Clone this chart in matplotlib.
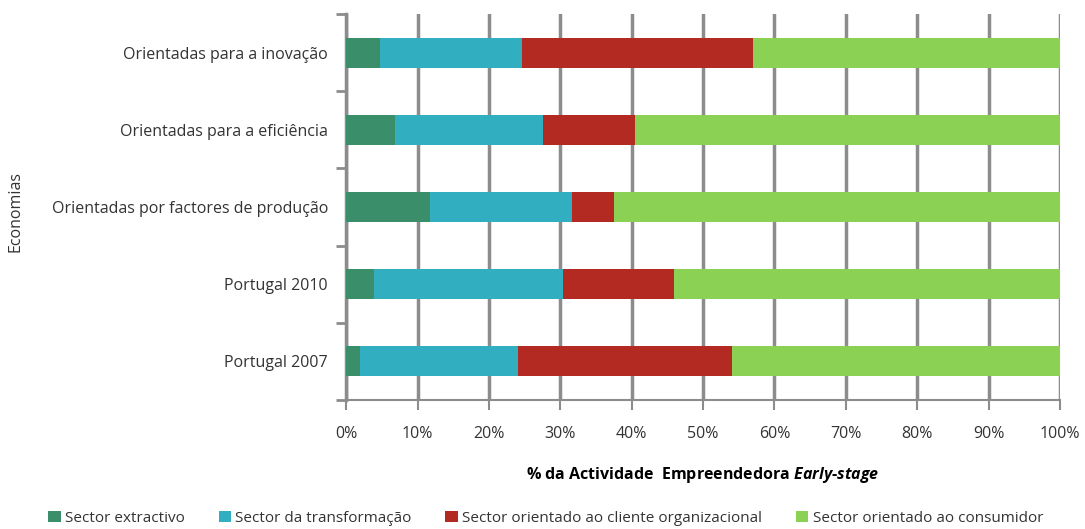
import numpy as np
import matplotlib
matplotlib.use('Agg')
from matplotlib import pyplot as plt
from matplotlib.patches import Patch

# categories, bottom to top
economias = ['Portugal 2007', 'Portugal 2010', 'Orientadas por factores de produção',
             'Orientadas para a eficiência', 'Orientadas para a inovação']

# shares (%) per sector
extractivo = [2.0, 3.9, 11.8, 6.9, 4.8]
transformacao = [22.1, 26.5, 19.9, 20.7, 19.8]
cliente_org = [30.0, 15.5, 5.8, 12.9, 32.4]
consumidor = [45.9, 54.1, 62.5, 59.5, 43.0]

sectores = ['Sector extractivo', 'Sector da transformação',
            'Sector orientado ao cliente organizacional', 'Sector orientado ao consumidor']
cores = ['#3a8f6a', '#31aebf', '#b22a22', '#8ad154']

plt.rcParams['font.family'] = ['Open Sans', 'DejaVu Sans']
plt.rcParams['mathtext.fontset'] = 'custom'
plt.rcParams['mathtext.it'] = 'Open Sans:italic:bold'
plt.rcParams['mathtext.rm'] = 'Open Sans:bold'
plt.rcParams['text.color'] = '#333333'
plt.rcParams['xtick.color'] = '#333333'
plt.rcParams['ytick.color'] = '#333333'

fig = plt.figure(figsize=(10.85, 5.29), dpi=100)
ax = fig.add_axes([0.319, 0.2439, 0.658, 0.7296])

y = np.arange(len(economias))
left = np.zeros(len(economias))
for vals, nome, cor in zip([extractivo, transformacao, cliente_org, consumidor], sectores, cores):
    ax.barh(y, vals, left=left, height=0.39, color=cor, label=nome, zorder=3)
    left += np.array(vals)

ax.set_xlim(0, 100)
ax.set_ylim(-0.5, len(economias) - 0.5)
ax.set_xticks(np.arange(0, 101, 10))
ax.set_xticklabels(['%d%%' % v for v in range(0, 101, 10)], fontsize=11.5)
ax.set_yticks(y)
ax.set_yticklabels(economias, fontsize=11.5)
ax.set_yticks(np.arange(-0.5, len(economias), 1), minor=True)
ax.tick_params(axis='y', which='major', length=0, pad=13)
ax.tick_params(axis='y', which='minor', length=7, width=2, color='#8c8c8c')
ax.tick_params(axis='x', length=7, width=1.5, color='#8c8c8c', pad=12)

ax.grid(axis='x', color='#8c8c8c', linewidth=2.5, zorder=0)
for s in ['top', 'right']:
    ax.spines[s].set_visible(False)
ax.spines['left'].set_color('#8c8c8c')
ax.spines['left'].set_linewidth(2.5)
ax.spines['bottom'].set_color('#8c8c8c')
ax.spines['bottom'].set_linewidth(1.5)

ax.set_xlabel('% da Actividade  Empreendedora $\\it{Early}$-$\\it{stage}$', fontsize=11.5,
              fontweight='bold', labelpad=16)
fig.text(0.014, 0.6, 'Economias', rotation=90, va='center', ha='center', fontsize=11.5)

handles = [Patch(facecolor=c, label=n) for n, c in zip(sectores, cores)]
fig.legend(handles=handles, loc='lower center', bbox_to_anchor=(0.503, -0.02), ncol=4,
           frameon=False, fontsize=11, handlelength=0.8, handleheight=0.8,
           handletextpad=0.3, columnspacing=2.2)

fig.savefig('out.png', dpi=100)
